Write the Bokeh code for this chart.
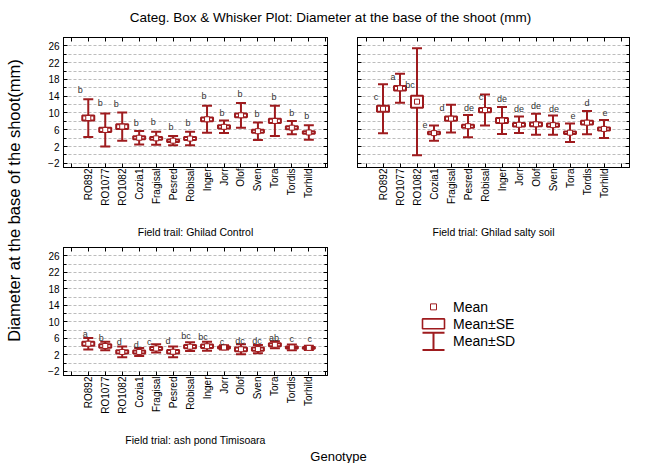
import math
from bokeh.plotting import figure
from bokeh.models import (Range1d, FixedTicker, LinearAxis, Whisker, TeeHead,
                          ColumnDataSource)
from bokeh.layouts import row, column
from bokeh.embed import file_html
from bokeh.resources import INLINE
from bokeh.core.properties import value

# ---------------- data ----------------
genotypes = ["RO892", "RO1077", "RO1082", "Cozia1", "Fragisal", "Pesred", "Robisal",
             "Inger", "Jorr", "Olof", "Sven", "Tora", "Tordis", "Torhild"]

control_mean = [8.8, 5.95, 6.75, 4.1, 3.95, 3.4, 3.9, 8.5, 6.7, 9.45, 5.65, 8.1, 6.5, 5.35]
control_se = [0.6, 0.5, 0.55, 0.35, 0.35, 0.3, 0.35, 0.45, 0.4, 0.45, 0.35, 0.5, 0.35, 0.3]
control_sd = [4.5, 3.95, 3.35, 1.6, 1.55, 1.1, 1.6, 3.2, 1.5, 2.95, 2.1, 3.6, 1.6, 1.75]
control_letters = ["b", "b", "b", "b", "b", "b", "b", "b", "b", "b", "b", "b", "b", "b"]
control_letter_y = [15.6, 12.4, 12.1, 7.7, 7.8, 6.55, 7.7, 14.0, 10.05, 14.5, 9.7, 13.7, 10.05, 9.4]

salty_mean = [11.0, 15.9, 12.7, 5.2, 8.65, 6.85, 10.7, 8.2, 7.2, 7.3, 7.1, 5.3, 7.7, 6.2]
salty_se = [0.71, 0.55, 1.43, 0.3, 0.5, 0.35, 0.5, 0.6, 0.4, 0.45, 0.4, 0.3, 0.45, 0.35]
salty_sd = [5.85, 3.45, 12.75, 1.8, 3.3, 2.65, 3.7, 3.2, 1.95, 2.5, 2.3, 2.2, 2.8, 2.15]
salty_letters = ["c", "a", "bc", "e", "d", "de", "c", "de", "de", "de", "de", "e", "d", "e"]
salty_letter_y = [13.85, 18.6, 16.65, 7.1, 11.1, 11.3, 13.7, 13.3, 10.85, 11.6, 11.0, 9.25, 12.4, 10.05]

ash_mean = [4.7, 4.15, 2.7, 2.7, 3.55, 2.75, 3.98, 4.08, 3.8, 3.35, 3.4, 4.45, 3.8, 3.68]
ash_se = [0.5, 0.4, 0.4, 0.35, 0.35, 0.4, 0.4, 0.4, 0.25, 0.45, 0.4, 0.35, 0.25, 0.2]
ash_sd = [1.4, 1.05, 1.3, 0.95, 1.0, 1.3, 1.05, 1.1, 0.5, 1.2, 1.0, 0.85, 0.7, 0.5]
ash_letters = ["a", "b", "d", "d", "c", "d", "bc", "bc", "c", "dc", "dc", "ab", "c", "c"]
ash_letter_y = [7.0, 6.0, 5.0, 4.5, 5.2, 5.35, 6.45, 6.3, 5.2, 5.4, 5.4, 6.2, 5.8, 5.8]

y_tick_labels = [-2, 2, 6, 10, 14, 18, 22, 26]
legend_labels = ["Mean", "Mean\u00b1SE", "Mean\u00b1SD"]

# ---------------- styling ----------------
RED = "#9E1B1E"
FONT = "Liberation Sans"
GRID = "#bdbdbd"

# small horizontal nudges (px) of the group letters, as placed in the source chart
control_nudge = [-8, -5, -6, -3, -3, -2, -2, -3, -2, -1, -1, -1, 0, -2]
salty_nudge = [-7, -7, -7, -9, -9, 1, -4, 0, 0, 0, 1, 3, 0, 1]
ash_nudge = [-3, -4, -3, -3, -7, -5, -4, -4, -2, -1, -1, -1, 0, 1]


def blank_labels(ticks):
    return {t: "" for t in ticks}


def style_axis(ax, ticks, minor=None, labels=None, font_size="10px", standoff=4):
    ax.ticker = FixedTicker(ticks=ticks, minor_ticks=minor or [])
    ax.major_tick_in = 4
    ax.major_tick_out = 0
    ax.minor_tick_in = 3
    ax.minor_tick_out = 0
    ax.axis_line_color = "black"
    ax.major_tick_line_color = "black"
    ax.minor_tick_line_color = "black"
    ax.major_label_text_font = FONT
    ax.major_label_text_color = "black"
    ax.major_label_text_font_size = font_size
    ax.major_label_standoff = standoff
    if labels is not None:
        ax.major_label_overrides = labels


def build_panel(means, ses, sds, letters, letter_y, nudges, subtitle,
                x_lo, x_hi, y_lo, width, height, borders, show_y, tick_standoff, sub_standoff):
    idx = list(range(len(genotypes)))
    src = ColumnDataSource(data=dict(
        x=idx, mean=means, box=[2 * s for s in ses],
        lower=[m - d for m, d in zip(means, sds)],
        upper=[m + d for m, d in zip(means, sds)],
        letter=letters, ly=letter_y, dx=nudges))
    bl, br, bt, bb = borders
    p = figure(width=width, height=height, x_range=Range1d(x_lo, x_hi),
               y_range=Range1d(y_lo, 28), output_backend="svg", toolbar_location=None,
               min_border_left=bl, min_border_right=br, min_border_top=bt,
               min_border_bottom=bb, outline_line_color="black",
               background_fill_color="white", border_fill_color="white")
    cat_ticks = list(range(-1, len(genotypes) + 1))
    y_major = y_tick_labels
    y_minor = [v + 2 for v in y_tick_labels]

    # grid
    p.xgrid.visible = False
    p.ygrid.ticker = FixedTicker(ticks=list(range(-2, 28, 2)))
    p.ygrid.grid_line_color = GRID
    p.ygrid.grid_line_dash = "3 2"
    p.ygrid.grid_line_width = 1

    # bottom axis with genotype names
    xlabels = {t: "" for t in cat_ticks}
    for i, g in enumerate(genotypes):
        xlabels[i] = g
    bx = p.xaxis[0]
    style_axis(bx, cat_ticks, labels=xlabels, standoff=tick_standoff)
    bx.major_label_orientation = math.pi / 2
    bx.axis_label = subtitle
    bx.axis_label_text_font = FONT
    bx.axis_label_text_font_style = "normal"
    bx.axis_label_text_font_size = "10.5px"
    bx.axis_label_text_color = "black"
    bx.axis_label_standoff = sub_standoff

    # left axis
    ly = p.yaxis[0]
    if show_y:
        style_axis(ly, y_major, y_minor, font_size="10px", standoff=4)
    else:
        style_axis(ly, y_major, y_minor, labels=blank_labels(y_major), standoff=0)

    # right & top axes (ticks only)
    ra = LinearAxis()
    style_axis(ra, y_major, y_minor, labels=blank_labels(y_major), standoff=0)
    p.add_layout(ra, "right")
    ta = LinearAxis()
    style_axis(ta, cat_ticks, labels=blank_labels(cat_ticks), standoff=0)
    p.add_layout(ta, "above")

    # mean +- SD whiskers
    w = Whisker(source=src, base="x", upper="upper", lower="lower", dimension="height",
                line_color=RED, line_width=2,
                upper_head=TeeHead(size=10, line_color=RED, line_width=2),
                lower_head=TeeHead(size=10, line_color=RED, line_width=2))
    p.add_layout(w)
    # mean +- SE boxes
    p.rect(x="x", y="mean", width=12, width_units="screen", height="box", source=src,
           fill_color="white", line_color=RED, line_width=2)
    # means
    p.scatter(x="x", y="mean", source=src, marker="square", size=5,
              fill_color="white", line_color=RED, line_width=1)
    # group letters
    p.text(x="x", y="ly", text="letter", source=src, x_offset="dx",
           text_font=value(FONT), text_font_size="9px", text_color="#333333",
           text_align="center", text_baseline="middle")
    return p


p1 = build_panel(control_mean, control_se, control_sd, control_letters, control_letter_y,
                 control_nudge, "Field trail: Ghilad Control",
                 -1.46, 14.1, -3, 312, 210, (35, 13, 7, 73), True, 1, 17)
p2 = build_panel(salty_mean, salty_se, salty_sd, salty_letters, salty_letter_y,
                 salty_nudge, "Field trial: Ghilad salty soil",
                 -1.5, 14.5, -3, 305, 210, (17, 16, 7, 73), False, 1, 17)
p3 = build_panel(ash_mean, ash_se, ash_sd, ash_letters, ash_letter_y,
                 ash_nudge, "Field trial: ash pond Timisoara",
                 -1.46, 14.1, -3, 312, 208, (35, 13, 7, 71), True, 1, 17)


def blank_fig(w, h, top=0, bottom=0):
    # frame spans [top, h - bottom]; ranges map 1 unit to 1 px of the figure
    f = figure(width=w, height=h, x_range=Range1d(0, w), y_range=Range1d(h - bottom, top),
               x_axis_type=None, y_axis_type=None, output_backend="svg",
               toolbar_location=None, min_border=0, min_border_top=top,
               min_border_bottom=bottom, outline_line_color=None,
               background_fill_color="white", border_fill_color="white")
    return f


# legend (shares frame alignment with p3 in the row)
leg = blank_fig(305, 208, top=7, bottom=71)
sym_x = 93
row_y = [67.3, 84.5, 102.3]
leg.scatter(x=[sym_x], y=[row_y[0]], marker="square", size=6,
            fill_color="white", line_color=RED, line_width=1)
leg.rect(x=[sym_x], y=[row_y[1]], width=22, height=10, fill_color="white",
         line_color=RED, line_width=1.6)
lsrc = ColumnDataSource(data=dict(x=[sym_x], lo=[row_y[2] + 8.7], hi=[row_y[2] - 8.7]))
leg.add_layout(Whisker(source=lsrc, base="x", upper="hi", lower="lo", dimension="height",
                       line_color=RED, line_width=2,
                       upper_head=TeeHead(size=22, line_color=RED, line_width=2),
                       lower_head=TeeHead(size=22, line_color=RED, line_width=2)))
leg.text(x=[112.5] * 3, y=row_y, text=legend_labels, text_font=value(FONT),
         text_font_size="14px", text_color="black", text_align="left",
         text_baseline="middle")

# title, y label, x label
tfig = blank_fig(645, 30)
tfig.text(x=[330], y=[17], text=["Categ. Box & Whisker Plot: Diameter at the base of the shoot (mm)"],
          text_font=value(FONT), text_font_size="13.5px", text_color="black",
          text_align="center", text_baseline="middle")

yfig = blank_fig(28, 418)
yfig.text(x=[13], y=[170], text=["Diameter at the base of the shoot(mm)"], angle=math.pi / 2,
          text_font=value(FONT), text_font_size="16.5px", text_color="black",
          text_align="center", text_baseline="middle")

gfig = blank_fig(645, 15)
gfig.text(x=[338], y=[8], text=["Genotype"], text_font=value(FONT),
          text_font_size="13px", text_color="black", text_align="center",
          text_baseline="middle")

layout = column(tfig,
                row(yfig, column(row(p1, p2), row(p3, leg))),
                gfig)

open("out.html", "w").write(file_html(layout, INLINE))
